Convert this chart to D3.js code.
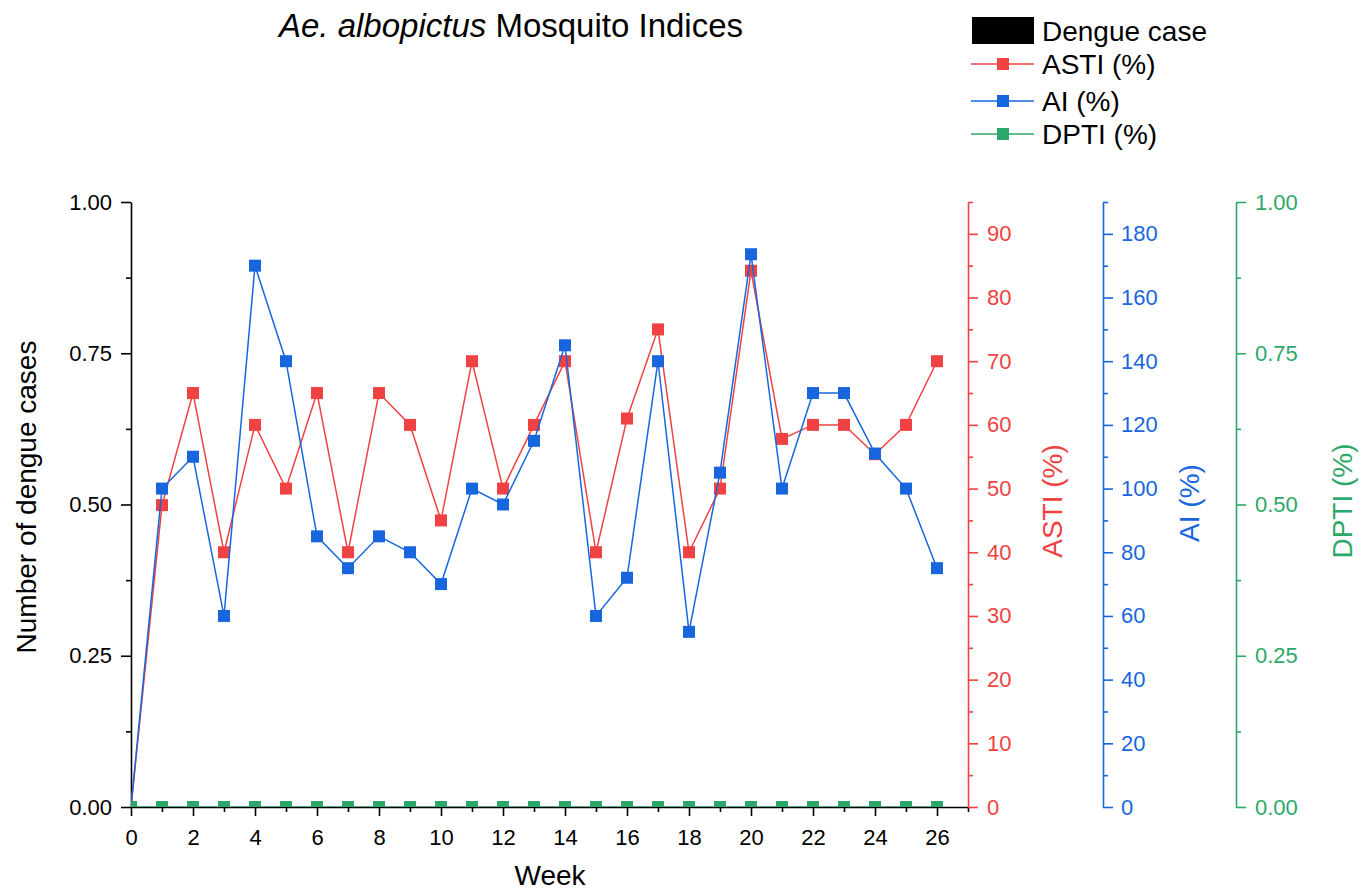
<!DOCTYPE html>
<html>
<head>
<meta charset="utf-8">
<script src="https://cdn.jsdelivr.net/npm/d3@7"></script>
<style>
  body { margin: 0; background: #fff; }
  svg { display: block; }
  text { font-family: "Liberation Sans", Arial, sans-serif; }
</style>
</head>
<body>
<svg id="chart" width="1371" height="892"></svg>
<script>
// Weekly surveillance data
const weeks       = [0, 1, 2, 3, 4, 5, 6, 7, 8, 9, 10, 11, 12, 13, 14, 15, 16, 17, 18, 19, 20, 21, 22, 23, 24, 25, 26];
const dengueCases = [0, 0, 0, 0, 0, 0, 0, 0, 0, 0, 0, 0, 0, 0, 0, 0, 0, 0, 0, 0, 0, 0, 0, 0, 0, 0, 0];
const asti        = [0, 47.4, 65, 40, 60, 50, 65, 40, 65, 60, 45, 70, 50, 60, 70, 40, 61, 75, 40, 50, 84.2, 57.8, 60, 60, 55.4, 60, 70];
const ai          = [0, 100, 110, 60, 170, 140, 85, 75, 85, 80, 70, 100, 95, 115, 145, 60, 72, 140, 55, 105, 173.6, 100, 130, 130, 111, 100, 75];
const dpti        = [0, 0, 0, 0, 0, 0, 0, 0, 0, 0, 0, 0, 0, 0, 0, 0, 0, 0, 0, 0, 0, 0, 0, 0, 0, 0, 0];

// Tick values
const weekTicks      = [0, 2, 4, 6, 8, 10, 12, 14, 16, 18, 20, 22, 24, 26];
const weekMinor      = [1, 3, 5, 7, 9, 11, 13, 15, 17, 19, 21, 23, 25, 27];
const caseTicks      = [0, 0.25, 0.5, 0.75, 1];
const caseMinor      = [0.125, 0.375, 0.625, 0.875];
const astiTicks      = [0, 10, 20, 30, 40, 50, 60, 70, 80, 90];
const astiMinor      = [5, 15, 25, 35, 45, 55, 65, 75, 85, 95];
const aiTicks        = [0, 20, 40, 60, 80, 100, 120, 140, 160, 180];
const aiMinor        = [10, 30, 50, 70, 90, 110, 130, 150, 170, 190];
const dptiTicks      = [0, 0.25, 0.5, 0.75, 1];
const dptiMinor      = [0.125, 0.375, 0.625, 0.875];

const COLORS = { cases: "#000000", asti: "#f04242", ai: "#1766de", dpti: "#2ea86a" };

const svg = d3.select("#chart");
const L = 131, R = 968, T = 202, B = 807;
const redAxisX = 968, blueAxisX = 1103, greenAxisX = 1236;

const x      = d3.scaleLinear().domain([0, 27]).range([L, R]);
const yCases = d3.scaleLinear().domain([0, 1]).range([B, T]);
const yAsti  = d3.scaleLinear().domain([0, 95]).range([B, T]);
const yAi    = d3.scaleLinear().domain([0, 190]).range([B, T]);
const yDpti  = d3.scaleLinear().domain([0, 1]).range([B, T]);

svg.append("defs").append("clipPath").attr("id", "plot-clip")
  .append("rect").attr("x", L).attr("y", T).attr("width", R - L).attr("height", B - T);

// Title
const title = svg.append("text").attr("x", 511).attr("y", 37)
  .attr("text-anchor", "middle").attr("font-size", 33).attr("fill", "#000");
title.append("tspan").attr("font-style", "italic").text("Ae. albopictus");
title.append("tspan").text(" Mosquito Indices");

// Axis helper: major ticks with labels plus unlabeled minor ticks
function drawAxis(maker, scale, pos, majors, minors, fmt, color, majorLen, minorLen, pad) {
  const g = svg.append("g").attr("transform", pos);
  g.call(maker(scale).tickValues(majors).tickSize(majorLen).tickSizeOuter(0).tickPadding(pad).tickFormat(fmt));
  const gm = svg.append("g").attr("transform", pos);
  gm.call(maker(scale).tickValues(minors).tickSize(minorLen).tickSizeOuter(0).tickFormat(""));
  gm.select(".domain").remove();
  [g, gm].forEach(s => {
    s.selectAll("path.domain").attr("stroke", color).attr("stroke-width", 1.6);
    s.selectAll(".tick line").attr("stroke", color).attr("stroke-width", 1.6);
    s.selectAll(".tick text").attr("fill", color).attr("font-size", 22)
      .attr("font-family", "\"Liberation Sans\", Arial, sans-serif");
  });
  return g;
}

const f2 = d3.format(".2f");
drawAxis(d3.axisBottom, x, `translate(0,${B})`, weekTicks, weekMinor, d3.format("d"), "#000", 9, 5, 13);
drawAxis(d3.axisLeft, yCases, `translate(${L},0)`, caseTicks, caseMinor, f2, "#000", 10, 5, 9);
drawAxis(d3.axisRight, yAsti, `translate(${redAxisX},0)`, astiTicks, astiMinor, d3.format("d"), COLORS.asti, 10, 5, 9);
drawAxis(d3.axisRight, yAi, `translate(${blueAxisX},0)`, aiTicks, aiMinor, d3.format("d"), COLORS.ai, 10, 5, 8);
drawAxis(d3.axisRight, yDpti, `translate(${greenAxisX},0)`, dptiTicks, dptiMinor, f2, COLORS.dpti, 10, 5, 9);

// Axis titles
function vTitle(xPos, yPos, label, color) {
  svg.append("text").attr("transform", `translate(${xPos},${yPos}) rotate(-90)`)
    .attr("text-anchor", "middle").attr("font-size", 28).attr("fill", color).text(label);
}
svg.append("text").attr("x", 550).attr("y", 885).attr("text-anchor", "middle")
  .attr("font-size", 28).attr("fill", "#000").text("Week");
vTitle(36, 497, "Number of dengue cases", "#000");
vTitle(1062, 501, "ASTI (%)", COLORS.asti);
vTitle(1199, 503, "AI (%)", COLORS.ai);
vTitle(1352, 501, "DPTI (%)", COLORS.dpti);

// Plot contents
const plot = svg.append("g").attr("clip-path", "url(#plot-clip)");

// Dengue case bars
plot.append("g").selectAll("rect").data(weeks).join("rect")
  .attr("x", d => x(d) - 10).attr("width", 20)
  .attr("y", (d, i) => yCases(dengueCases[i]))
  .attr("height", (d, i) => yCases(0) - yCases(dengueCases[i]))
  .attr("fill", COLORS.cases);

function drawSeries(values, scale, color) {
  const pts = weeks.map((w, i) => [w, values[i]]);
  const line = d3.line().x(d => x(d[0])).y(d => scale(d[1]));
  const g = plot.append("g");
  g.append("path").datum(pts).attr("d", line).attr("fill", "none")
    .attr("stroke", color).attr("stroke-width", 1.5);
  g.selectAll("rect").data(pts).join("rect")
    .attr("x", d => x(d[0]) - 6).attr("y", d => scale(d[1]) - 6)
    .attr("width", 12).attr("height", 12).attr("fill", color);
}
drawSeries(asti, yAsti, COLORS.asti);
drawSeries(ai, yAi, COLORS.ai);
drawSeries(dpti, yDpti, COLORS.dpti);

// Legend
const legend = svg.append("g");
legend.append("rect").attr("x", 972).attr("y", 17).attr("width", 62).attr("height", 27).attr("fill", COLORS.cases);
legend.append("text").attr("x", 1042).attr("y", 41).attr("font-size", 28).attr("fill", "#000").text("Dengue case");
const legendRows = [
  { label: "ASTI (%)", color: COLORS.asti, y: 64 },
  { label: "AI (%)", color: COLORS.ai, y: 101 },
  { label: "DPTI (%)", color: COLORS.dpti, y: 134 }
];
legendRows.forEach(r => {
  legend.append("line").attr("x1", 971).attr("x2", 1034).attr("y1", r.y).attr("y2", r.y)
    .attr("stroke", r.color).attr("stroke-width", 1.5);
  legend.append("rect").attr("x", 1003 - 6).attr("y", r.y - 6).attr("width", 12).attr("height", 12).attr("fill", r.color);
  legend.append("text").attr("x", 1042).attr("y", r.y + 10).attr("font-size", 28).attr("fill", "#000").text(r.label);
});
</script>
</body>
</html>
